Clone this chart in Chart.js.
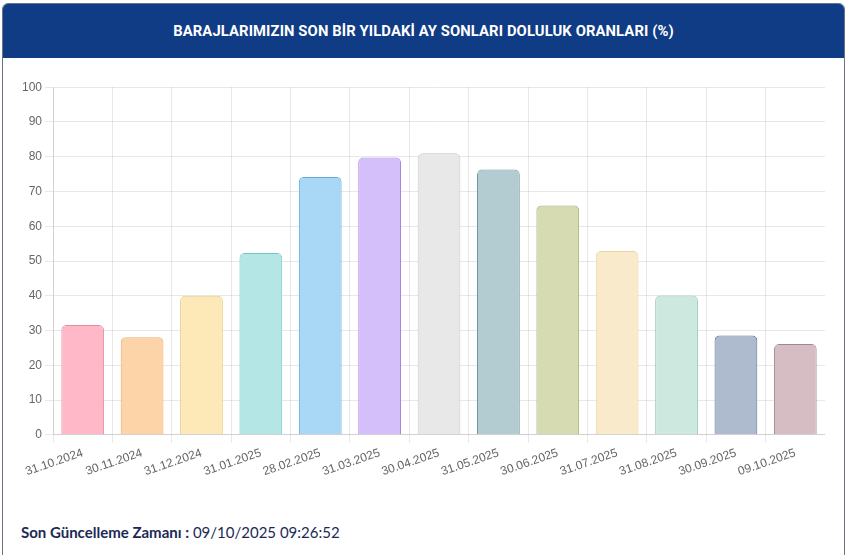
<!DOCTYPE html>
<html lang="tr">
  <head>
    <meta charset="UTF-8" />
    <title>Baraj Doluluk Oranları</title>
    <script src="https://cdn.jsdelivr.net/npm/chart.js"></script>
    <style>
      body { margin: 0; background: #fff; font-family: 'Lato', sans-serif; }
      .card {
        position: absolute; left: 2px; top: 3px; width: 841px; height: 560px;
        border: 1px solid #6b7485; border-radius: 6px; background: #fff; overflow: hidden;
      }
      .card-header {
        height: 54px; background: #103b85; color: #fff;
        display: flex; align-items: center; justify-content: center;
        font-family: 'Roboto', sans-serif; font-weight: 700; font-size: 14.8px;
        letter-spacing: 0.1px;
      }
      .chart-box { position: absolute; left: 16px; top: 73px; width: 806px; height: 405px; }
      .footer {
        position: absolute; left: 18px; top: 519px; font-size: 15px; color: #1b2a55;
        font-family: 'Lato', sans-serif;
      }
      .footer b { font-weight: 700; }
    </style>
  </head>
  <body>
    <div class="card">
      <div class="card-header">BARAJLARIMIZIN SON BİR YILDAKİ AY SONLARI DOLULUK ORANLARI (%)</div>
      <div class="chart-box"><canvas id="myChart"></canvas></div>
      <div class="footer"><b>Son Güncelleme Zamanı :</b> 09/10/2025 09:26:52</div>
    </div>

    <script>
      // end-of-month fill ratios
      const dates = ['31.10.2024', '30.11.2024', '31.12.2024', '31.01.2025', '28.02.2025', '31.03.2025',
        '30.04.2025', '31.05.2025', '30.06.2025', '31.07.2025', '31.08.2025', '30.09.2025', '09.10.2025'];
      const ratios = [31.6, 28.1, 40.0, 52.3, 74.2, 79.8, 81.0, 76.3, 66.0, 52.9, 40.1, 28.6, 26.1];
      const yTicks = [0, 10, 20, 30, 40, 50, 60, 70, 80, 90, 100];

      const fills = ['#ffb8c8', '#fdd4a8', '#fde8b8', '#b4e6e6', '#a9d7f6', '#d5bffb', '#e8e8e8',
        '#b3ccd1', '#d6dbb1', '#f8eaca', '#cde8df', '#aebbcf', '#d6bdc4'];
      const borders = ['#e38da3', '#e6a970', '#eccb80', '#72c4c4', '#63a9d6', '#a486e2', '#c4c4c4',
        '#6e979e', '#a5ac73', '#e9d49c', '#94c8b6', '#5f6f8c', '#a28592'];

      const ctx = document.getElementById('myChart').getContext('2d');
      new Chart(ctx, {
        type: 'bar',
        data: {
          labels: dates,
          datasets: [{
            label: '%',
            data: ratios,
            backgroundColor: fills,
            borderColor: borders,
            borderWidth: 1,
            borderRadius: 5,
            borderSkipped: 'bottom'
          }]
        },
        options: {
          responsive: true,
          maintainAspectRatio: false,
          animation: false,
          plugins: { legend: { display: false }, tooltip: { enabled: false } },
          scales: {
            x: {
              grid: { color: 'rgba(0,0,0,0.09)' },
              ticks: { color: '#666', font: { size: 12 }, minRotation: 19, maxRotation: 19 }
            },
            y: {
              min: 0,
              max: 100,
              afterBuildTicks: axis => { axis.ticks = yTicks.map(v => ({ value: v })); },
              grid: { color: 'rgba(0,0,0,0.09)' },
              ticks: { color: '#666', font: { size: 12 } }
            }
          }
        }
      });
    </script>
  </body>
</html>
